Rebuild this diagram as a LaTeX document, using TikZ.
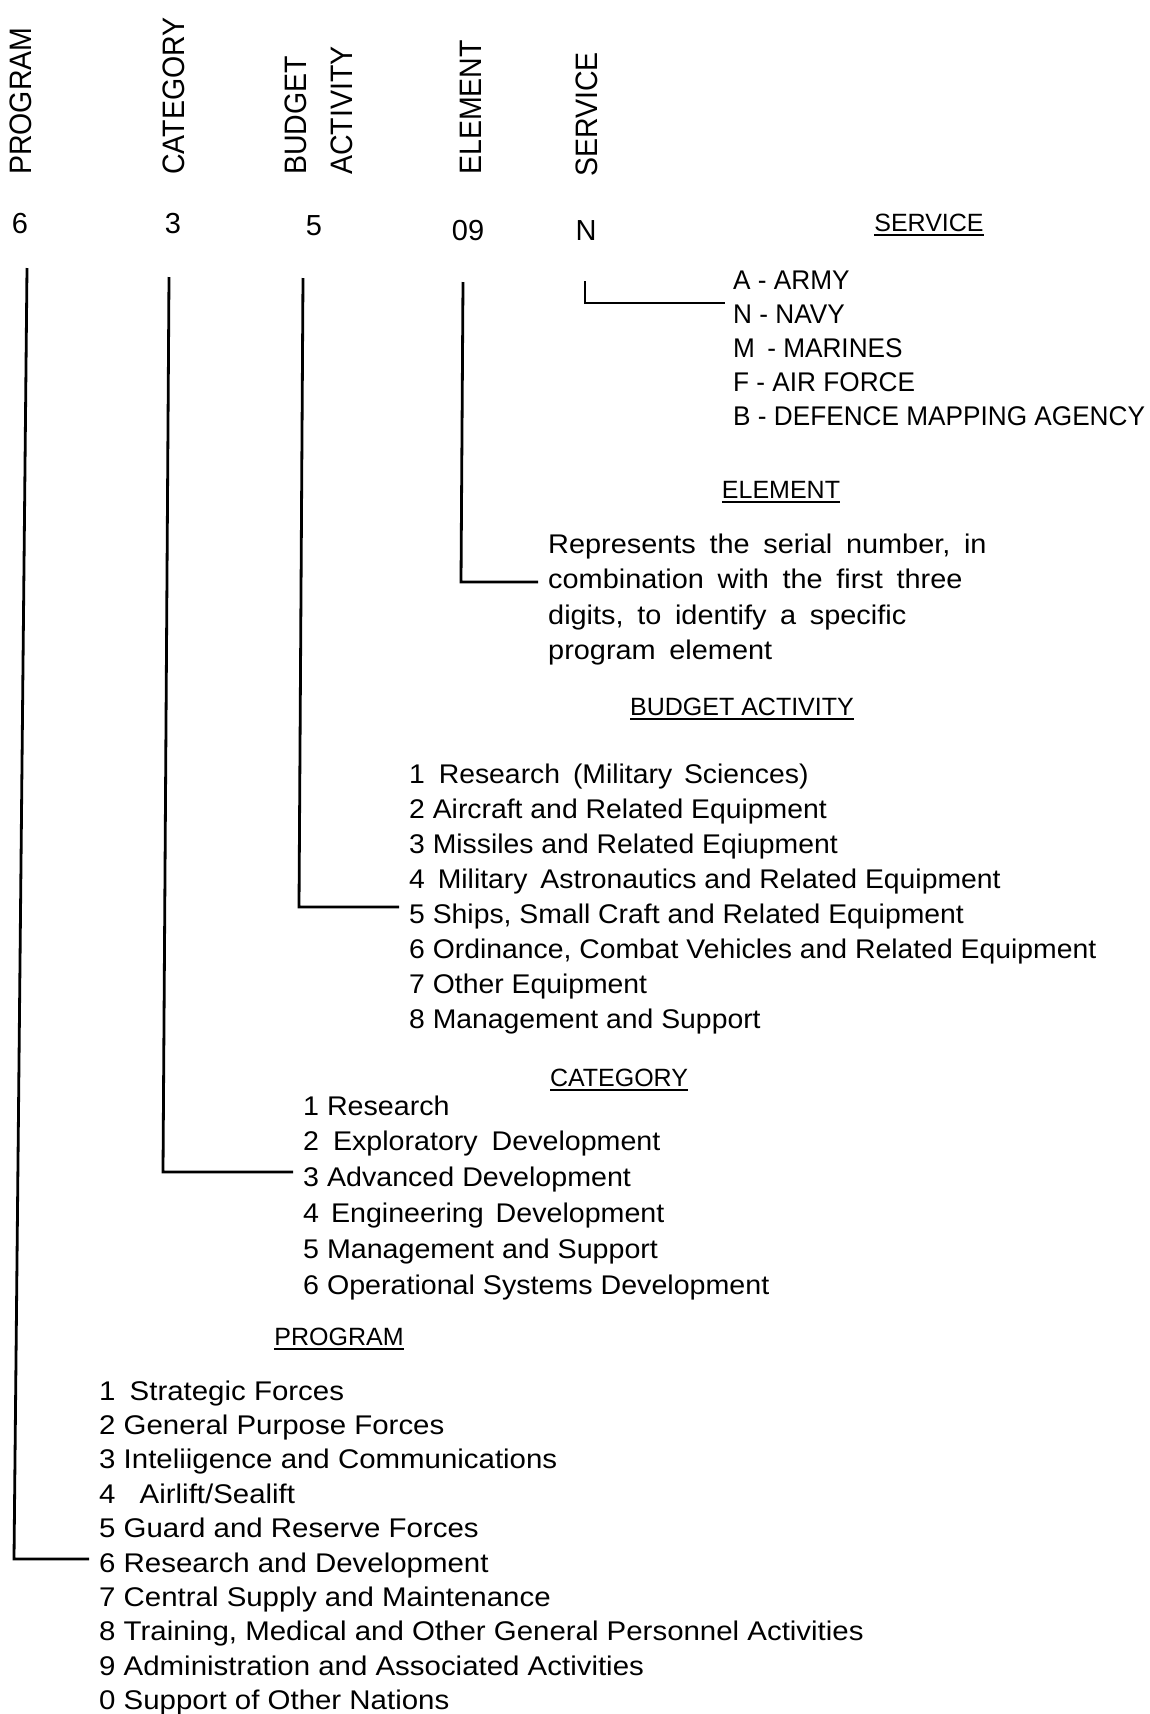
\documentclass[tikz,border=0pt]{standalone}
\usepackage{fontspec}
\setmainfont{Liberation Sans}
\newfontfamily\fhead[FakeStretch=0.92]{Liberation Sans}
\newfontfamily\fsvc[FakeStretch=0.97]{Liberation Sans}
\newfontfamily\fele[FakeStretch=1.07,WordSpace=1.7]{Liberation Sans}
\newfontfamily\fbud[FakeStretch=1.05]{Liberation Sans}
\newfontfamily\fcat[FakeStretch=1.06]{Liberation Sans}
\newfontfamily\fprg[FakeStretch=1.09]{Liberation Sans}
\newcommand\myul[1]{\vtop{\hbox{#1}\kern3pt\hrule height 1.8pt}}
\begin{document}
\begin{tikzpicture}[x=1pt,y=-1pt,
  vhead/.style={rotate=90,anchor=west,inner sep=0pt,font=\fhead\fontsize{31}{36}\selectfont},
  digit/.style={inner sep=0pt,font=\fontsize{29}{34}\selectfont},
  heading/.style={anchor=base,inner sep=0pt,font=\fontsize{25}{30}\selectfont},
  svcitem/.style={anchor=base west,inner sep=0pt,font=\fsvc\fontsize{27}{32}\selectfont},
  eleitem/.style={anchor=base west,inner sep=0pt,font=\fele\fontsize{27}{32}\selectfont},
  buditem/.style={anchor=base west,inner sep=0pt,font=\fbud\fontsize{27}{32}\selectfont},
  catitem/.style={anchor=base west,inner sep=0pt,font=\fcat\fontsize{27}{32}\selectfont},
  prgitem/.style={anchor=base west,inner sep=0pt,font=\fprg\fontsize{27}{32}\selectfont},
  link/.style={line width=2.8pt}]
\fill[white] (0,0) rectangle (1149,1714);
\useasboundingbox (0,0) rectangle (1149,1714);

% vertical column headers
\node[vhead] (vPRG) at (21,175) {PROGRAM};
\node[vhead] (vCAT) at (174,175) {CATEGORY};
\node[vhead] (vBUD) at (296,175) {BUDGET};
\node[vhead] (vACT) at (342,175) {ACTIVITY};
\node[vhead] (vELE) at (471,175) {ELEMENT};
\node[vhead] (vSVC) at (587,177) {SERVICE};

% code digits
\node[digit] (d6) at (20,224) {6};
\node[digit] (d3) at (173,224) {3};
\node[digit] (d5) at (314,226) {5};
\node[digit] (d09) at (468,231) {09};
\node[digit] (dN) at (586,231) {N};

% SERVICE
\node[heading] (hSVC) at (929,231) {\myul{SERVICE}};
\node[svcitem] (sA) at (733,289) {A - ARMY};
\node[svcitem] (sN) at (733,323) {N - NAVY};
\node[svcitem] (sM) at (733,357) {M\hspace{5pt} - MARINES};
\node[svcitem] (sF) at (733,391) {F - AIR FORCE};
\node[svcitem] (sB) at (733,425) {B - DEFENCE MAPPING AGENCY};

% ELEMENT
\node[heading] (hELE) at (781,498) {\myul{ELEMENT}};
\node[eleitem] (e1) at (548,553) {Represents the serial number, in};
\node[eleitem] (e2) at (548,588) {combination with the first three};
\node[eleitem] (e3) at (548,624) {digits, to identify a specific};
\node[eleitem] (e4) at (548,659) {program element};

% BUDGET ACTIVITY
\node[heading] (hBUD) at (742,715) {\myul{BUDGET ACTIVITY}};
\node[buditem] (b1) at (409,783.0) {1\hspace{6pt} Research\hspace{5pt} (Military\hspace{4pt} Sciences)};
\node[buditem] (b2) at (409,818.1) {2 Aircraft and Related Equipment};
\node[buditem] (b3) at (409,853.2) {3 Missiles and Related Eqiupment};
\node[buditem] (b4) at (409,888.3) {4\hspace{5pt} Military\hspace{5pt} Astronautics and Related Equipment};
\node[buditem] (b5) at (409,923.4) {5 Ships, Small Craft and Related Equipment};
\node[buditem] (b6) at (409,958.5) {6 Ordinance, Combat Vehicles and Related Equipment};
\node[buditem] (b7) at (409,993.6) {7 Other Equipment};
\node[buditem] (b8) at (409,1028.7) {8 Management and Support};

% CATEGORY
\node[heading] (hCAT) at (619,1086) {\myul{CATEGORY}};
\node[catitem] (c1) at (303,1115.0) {1 Research};
\node[catitem] (c2) at (303,1150.8) {2\hspace{6pt} Exploratory\hspace{6pt} Development};
\node[catitem] (c3) at (303,1186.6) {3 Advanced Development};
\node[catitem] (c4) at (303,1222.4) {4\hspace{4pt} Engineering\hspace{4pt} Development};
\node[catitem] (c5) at (303,1258.2) {5 Management and Support};
\node[catitem] (c6) at (303,1294.0) {6 Operational Systems Development};

% PROGRAM
\node[heading] (hPRG) at (339,1345) {\myul{PROGRAM}};
\node[prgitem] (p1) at (99,1400.0) {1\hspace{6pt} Strategic Forces};
\node[prgitem] (p2) at (99,1434.4) {2 General Purpose Forces};
\node[prgitem] (p3) at (99,1468.8) {3 Inteliigence and Communications};
\node[prgitem] (p4) at (99,1503.2) {4\hspace{16pt} Airlift/Sealift};
\node[prgitem] (p5) at (99,1537.6) {5 Guard and Reserve Forces};
\node[prgitem] (p6) at (99,1572.0) {6 Research and Development};
\node[prgitem] (p7) at (99,1606.4) {7 Central Supply and Maintenance};
\node[prgitem] (p8) at (99,1640.8) {8 Training, Medical and Other General Personnel Activities};
\node[prgitem] (p9) at (99,1675.2) {9 Administration and Associated Activities};
\node[prgitem] (p0) at (99,1709.6) {0 Support of Other Nations};

% connectors
\coordinate (tP) at (27,268);  \coordinate (xP) at (14,0);
\coordinate (tC) at (169,277); \coordinate (xC) at (163,0);
\coordinate (tB) at (303,278); \coordinate (xB) at (299,0);
\coordinate (tE) at (463,282); \coordinate (xE) at (461,0);
\coordinate (tS) at (585,281); \coordinate (xS) at (585,0);

\coordinate (eP) at ([xshift=-10pt,yshift=13pt]p6.base west);
\coordinate (eC) at ([xshift=-10pt,yshift=14.6pt]c3.base west);
\coordinate (eB) at ([xshift=-10pt,yshift=16.4pt]b5.base west);
\coordinate (eE) at ([xshift=-10pt,yshift=6pt]e2.base west);
\coordinate (eS) at ([xshift=-8pt,yshift=20pt]sN.base west);

\draw[link] (tP) -- (xP |- eP) -- (eP);
\draw[link] (tC) -- (xC |- eC) -- (eC);
\draw[link] (tB) -- (xB |- eB) -- (eB);
\draw[link] (tE) -- (xE |- eE) -- (eE);
\draw[link] (tS) -- (xS |- eS) -- (eS);
\end{tikzpicture}
\end{document}
